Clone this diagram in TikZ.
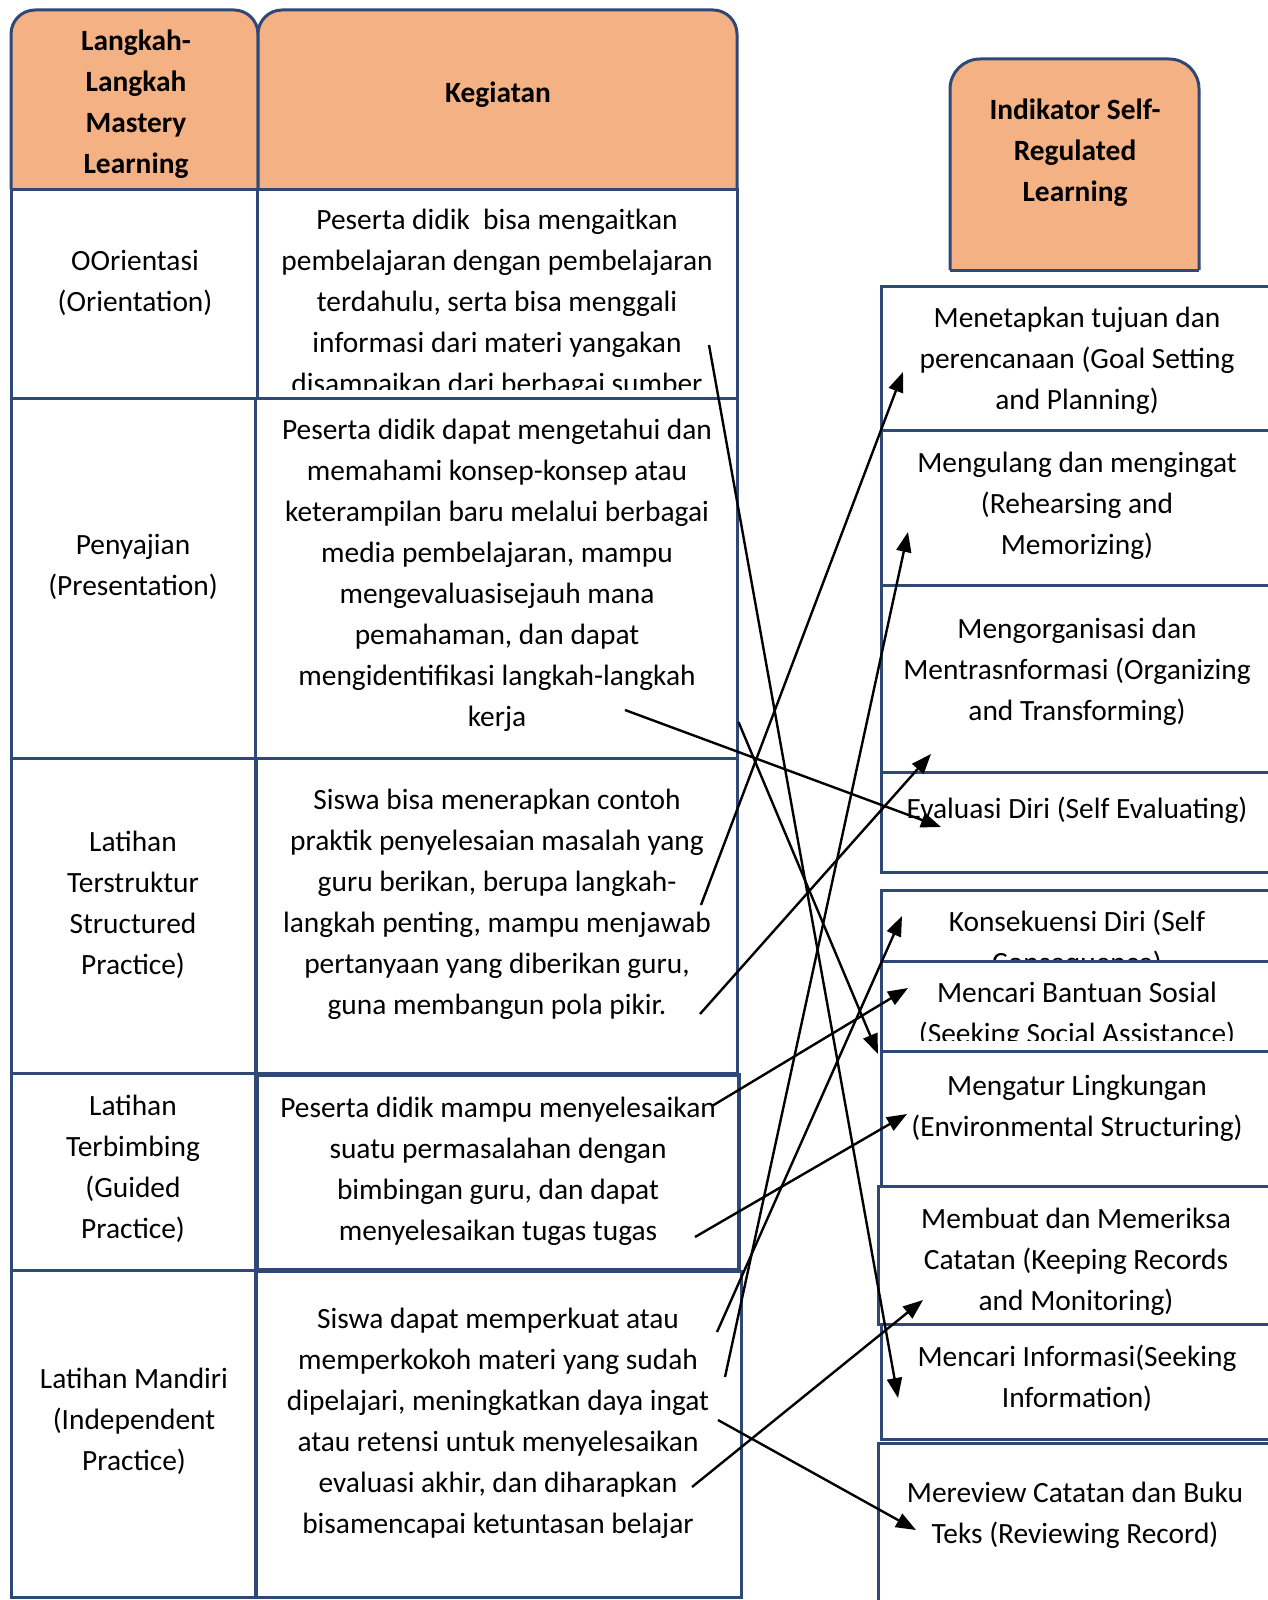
\documentclass[tikz,border=0pt]{standalone}
\usepackage{fontspec}
\setmainfont{Carlito}
\usetikzlibrary{arrows.meta}
\definecolor{bordc}{HTML}{2F4876}
\definecolor{hdrc}{HTML}{F4B183}
\begin{document}
\begin{tikzpicture}[x=0.5pt,y=-0.5pt,
  cell/.style={draw=bordc,line width=1.5pt,fill=white},
  hdr/.style={draw=bordc,line width=1.5pt,fill=hdrc},
  txt/.style={align=center,inner sep=0pt,font=\fontsize{14.7}{20.5}\selectfont},
  btxt/.style={align=center,inner sep=0pt,font=\fontsize{14.7}{20.5}\selectfont\bfseries},
  arr/.style={-{Triangle[length=10pt,width=7.5pt]},line width=1.2pt,black}]
\useasboundingbox (0,0) rectangle (1268,1600);
\clip (0,0) rectangle (1268,1600);
\fill[white] (0,0) rectangle (1268,1600);

% ---- left table ----
\draw[hdr] (11,189) [rounded corners=12pt] -- (11,10) -- (258,10) -- (258,189);
\draw[hdr] (258,189) [rounded corners=12pt] -- (258,10) -- (737,10) -- (737,189);
\node[btxt] (hL) at (136,104.5) {Langkah-\\Langkah\\Mastery\\Learning};
\node[btxt] (hK) at (498,94.5) {Kegiatan};

\draw[cell] (11,189) rectangle (257,398);
\draw[cell] (257,189) rectangle (737,398);
\node[txt] (r1L) at (135,282.5) {OOrientasi\\(Orientation)};
\begin{scope}
\clip (258,190) rectangle (736,389);
\node[txt] (r1K) at (497,303.5) {Peserta didik\ \ bisa mengaitkan\\pembelajaran dengan pembelajaran\\terdahulu, serta bisa menggali\\informasi dari materi yangakan\\disampaikan dari berbagai sumber};
\end{scope}

\draw[cell] (11,398) rectangle (255,758);
\draw[cell] (255,398) rectangle (737,758);
\node[txt] (r2L) at (133,566.5) {Penyajian\\(Presentation)};
\node[txt] (r2K) at (497,575.5) {Peserta didik dapat mengetahui dan\\memahami konsep-konsep atau\\keterampilan baru melalui berbagai\\media pembelajaran, mampu\\mengevaluasisejauh mana\\pemahaman, dan dapat\\mengidentifikasi langkah-langkah\\kerja};

\draw[cell] (11,758) rectangle (255,1073);
\draw[cell] (256,758) rectangle (737,1073);
\node[txt] (r3L) at (133,904.5) {Latihan\\Terstruktur\\Structured\\Practice)};
\node[txt] (r3K) at (497,904.5) {Siswa bisa menerapkan contoh\\praktik penyelesaian masalah yang\\guru berikan, berupa langkah-\\langkah penting, mampu menjawab\\pertanyaan yang diberikan guru,\\guna membangun pola pikir.};

\draw[cell] (11,1073) rectangle (255,1270);
\draw[cell,line width=2.4pt] (257,1075) rectangle (739,1270);
\node[txt] (r4L) at (133,1168.5) {Latihan\\Terbimbing\\(Guided\\Practice)};
\node[txt] (r4K) at (498,1171.5) {Peserta didik mampu menyelesaikan\\suatu permasalahan dengan\\bimbingan guru, dan dapat\\menyelesaikan tugas tugas};

\draw[cell] (11,1270) rectangle (255,1597);
\draw[cell] (256,1271) rectangle (741,1597);
\node[txt] (r5L) at (134,1421.5) {Latihan Mandiri\\(Independent\\Practice)};
\node[txt] (r5K) at (498,1423.5) {Siswa dapat memperkuat atau\\memperkokoh materi yang sudah\\dipelajari, meningkatkan daya ingat\\atau retensi untuk menyelesaikan\\evaluasi akhir, dan diharapkan\\bisamencapai ketuntasan belajar};

% ---- right column ----
\draw[hdr] (950,270) [rounded corners=15pt] -- (950,59) -- (1199,59) -- (1199,270);
\draw[bordc,line width=1.5pt] (950,270) -- (1199,270);
\node[btxt] (iH) at (1075,152.5) {Indikator Self-\\Regulated\\Learning};

\draw[cell] (881,286) rectangle (1290,430);
\node[txt] (i1) at (1077,360.5) {Menetapkan tujuan dan\\perencanaan (Goal Setting\\and Planning)};
\draw[cell] (881,430) rectangle (1290,585);
\node[txt] (i2) at (1077,505.5) {Mengulang dan mengingat\\(Rehearsing and\\Memorizing)};
\draw[cell] (881,585) rectangle (1290,772);
\node[txt] (i3) at (1077,671.5) {Mengorganisasi dan\\Mentrasnformasi (Organizing\\and Transforming)};
\draw[cell] (881,772) rectangle (1290,872);
\node[txt] (i4) at (1077,810.5) {Evaluasi Diri (Self Evaluating)};
\draw[cell] (881,890) rectangle (1290,962);
\node[txt] (i5) at (1077,943.5) {Konsekuensi Diri (Self\\Consequence)};
\draw[cell] (881,961) rectangle (1290,1051);
\begin{scope}
\clip (882,962) rectangle (1290,1040);
\node[txt] (i6) at (1077,1015.5) {Mencari Bantuan Sosial\\(Seeking Social Assistance)};
\end{scope}
\draw[cell] (881,1051) rectangle (1290,1186);
\node[txt] (i7) at (1077,1108.5) {Mengatur Lingkungan\\(Environmental Structuring)};
\draw[cell] (878,1186) rectangle (1290,1324);
\node[txt] (i8) at (1076,1261.5) {Membuat dan Memeriksa\\Catatan (Keeping Records\\and Monitoring)};
\draw[cell] (881,1324) rectangle (1290,1439);
\node[txt] (i9) at (1077,1378.5) {Mencari Informasi(Seeking\\Information)};
\draw[cell] (878,1443) rectangle (1290,1640);
\node[txt] (i10) at (1075,1515.5) {Mereview Catatan dan Buku\\Teks (Reviewing Record)};

% ---- arrows ----
\coordinate (s1) at (709,345);   \coordinate (e1) at (898,1398);
\coordinate (s2) at (738.5,722); \coordinate (e2) at (878,1054);
\coordinate (s3) at (625,710);   \coordinate (e3) at (941,827);
\coordinate (s4) at (701,905);   \coordinate (e4) at (903,372);
\coordinate (s5) at (700,1014);  \coordinate (e5) at (931,754);
\coordinate (s6) at (712,1106);  \coordinate (e6) at (908,988);
\coordinate (s7) at (695,1237);  \coordinate (e7) at (907,1114);
\coordinate (s8) at (717,1332);  \coordinate (e8) at (902,916);
\coordinate (s9) at (725,1377);  \coordinate (e9) at (908,532);
\coordinate (s10) at (718,1420); \coordinate (e10) at (916,1530);
\coordinate (s11) at (692,1487); \coordinate (e11) at (923,1300);
\foreach \i in {1,...,11} {\draw[arr] (s\i) -- (e\i);}
\end{tikzpicture}
\end{document}
